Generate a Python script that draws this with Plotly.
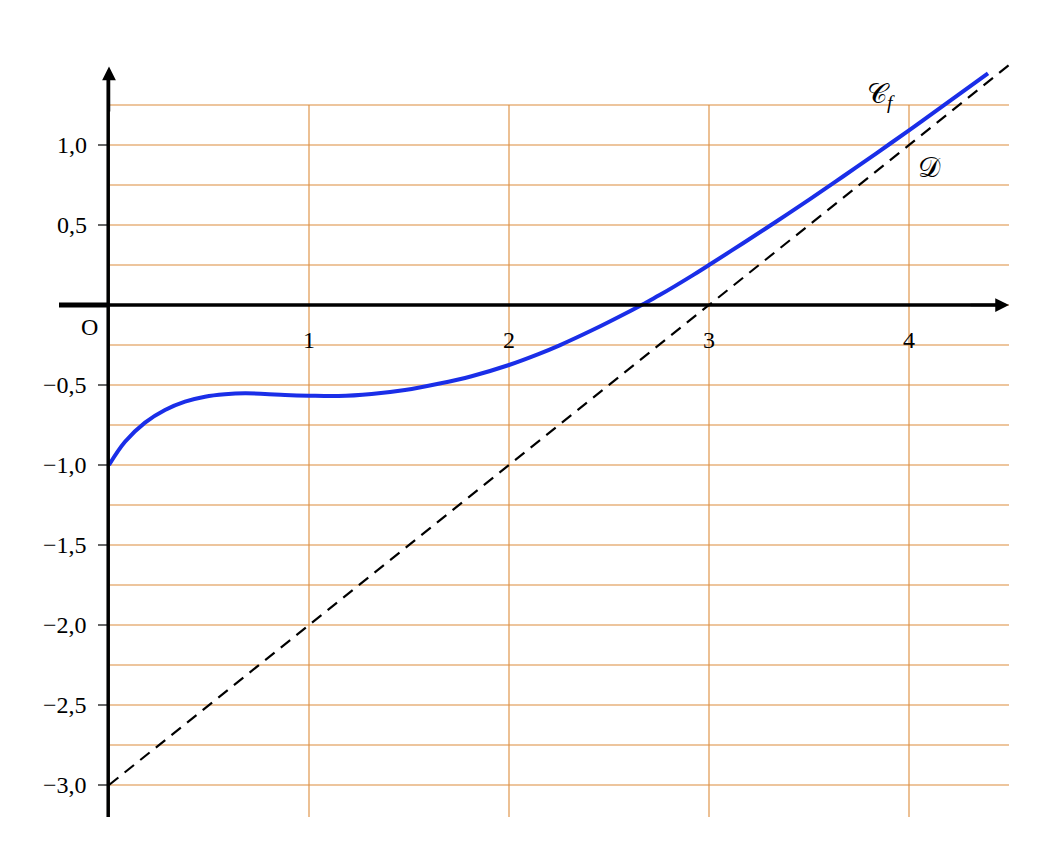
import plotly.graph_objects as go

# Curve C_f
curve_x = [0.0, 0.08, 0.18, 0.28, 0.38, 0.48, 0.58, 0.68, 0.78, 0.88, 1.0, 1.147, 1.313,
           1.48, 1.647, 1.813, 2.0, 2.147, 2.253, 2.42, 2.587, 2.67, 2.753, 2.92, 3.0, 3.17,
           3.337, 3.503, 3.67, 3.837, 4.0, 4.17, 4.395]
curve_y = [-1.0, -0.855, -0.735, -0.656, -0.604, -0.573, -0.558, -0.552, -0.556, -0.5625,
           -0.567, -0.569, -0.556, -0.531, -0.492, -0.445, -0.375, -0.307, -0.252, -0.155,
           -0.050, 0.005, 0.062, 0.187, 0.25, 0.386, 0.522, 0.66, 0.803, 0.948, 1.092, 1.245,
           1.448]

# Asymptote D
line_x = [0.0, 4.5]
line_y = [-3.0, 1.5]

# Ticks and labels
y_tick_vals = [1.0, 0.5, -0.5, -1.0, -1.5, -2.0, -2.5, -3.0]
y_tick_text = ["1,0", "0,5", "−0,5", "−1,0", "−1,5", "−2,0", "−2,5", "−3,0"]
x_tick_vals = [1, 2, 3, 4]
x_tick_text = ["1", "2", "3", "4"]

# Grid
grid_x = [0, 1, 2, 3, 4]
grid_y = [i * 0.25 for i in range(-12, 6)]

GRID = "#DC8C3C"
FONT = "Liberation Serif"

fig = go.Figure()

shapes = []
for gx in grid_x:
    shapes.append(dict(type="line", xref="x", yref="y", x0=gx, x1=gx, y0=-3.2, y1=1.25,
                       line=dict(color=GRID, width=1.1), layer="below"))
for gy in grid_y:
    shapes.append(dict(type="line", xref="x", yref="y", x0=0, x1=4.5, y0=gy, y1=gy,
                       line=dict(color=GRID, width=1.1), layer="below"))
# axes
shapes.append(dict(type="line", xref="x", yref="y", x0=-0.25, x1=0, y0=0, y1=0,
                   line=dict(color="black", width=5)))
shapes.append(dict(type="line", xref="x", yref="y", x0=0, x1=4.45, y0=0, y1=0,
                   line=dict(color="black", width=3.5)))
shapes.append(dict(type="line", xref="x", yref="y", x0=-0.004, x1=-0.004, y0=-3.2, y1=1.43,
                   line=dict(color="black", width=3.5)))
# y ticks
for v in y_tick_vals:
    shapes.append(dict(type="line", xref="x", yref="y", x0=-0.055, x1=0, y0=v, y1=v,
                       line=dict(color="black", width=1.2)))

fig.add_trace(go.Scatter(x=line_x, y=line_y, mode="lines",
                         line=dict(color="black", width=2.2, dash="12px,8px"),
                         hoverinfo="skip", showlegend=False))
fig.add_trace(go.Scatter(x=curve_x, y=curve_y, mode="lines",
                         line=dict(color="#1A2EE8", width=4, shape="spline", smoothing=1.0),
                         hoverinfo="skip", showlegend=False))

annotations = []
for v, t in zip(y_tick_vals, y_tick_text):
    annotations.append(dict(x=-0.1, y=v, xref="x", yref="y", text=t, showarrow=False,
                            xanchor="right", yanchor="middle",
                            font=dict(family=FONT, size=24, color="black")))
for v, t in zip(x_tick_vals, x_tick_text):
    annotations.append(dict(x=v, y=-0.22, xref="x", yref="y", text=t, showarrow=False,
                            xanchor="center", yanchor="middle",
                            font=dict(family=FONT, size=24, color="black")))
annotations.append(dict(x=-0.1, y=-0.135, xref="x", yref="y", text="O", showarrow=False,
                        xanchor="center", yanchor="middle",
                        font=dict(family=FONT, size=24, color="black")))
annotations.append(dict(x=3.86, y=1.31, xref="x", yref="y", text="𝒞<sub><i>f</i></sub>",
                        showarrow=False, xanchor="center", yanchor="middle",
                        font=dict(family=FONT, size=28, color="black")))
annotations.append(dict(x=4.1, y=0.86, xref="x", yref="y", text="𝒟",
                        showarrow=False, xanchor="center", yanchor="middle",
                        font=dict(family=FONT, size=28, color="black")))
# arrowheads
annotations.append(dict(x=4.5, y=0, ax=4.3, ay=0, xref="x", yref="y", axref="x", ayref="y",
                        text="", showarrow=True, arrowhead=2, arrowsize=1.1, arrowwidth=2.5,
                        arrowcolor="black"))
annotations.append(dict(x=0, y=1.49, ax=0, ay=1.2, xref="x", yref="y", axref="x", ayref="y",
                        text="", showarrow=True, arrowhead=2, arrowsize=1.1, arrowwidth=2.5,
                        arrowcolor="black"))

fig.update_layout(
    width=1063, height=858,
    margin=dict(l=41, r=52, t=49, b=41),
    paper_bgcolor="white", plot_bgcolor="white",
    xaxis=dict(range=[-0.3, 4.55], visible=False, fixedrange=True),
    yaxis=dict(range=[-3.25, 1.55], visible=False, fixedrange=True),
    shapes=shapes, annotations=annotations, showlegend=False,
)

fig.write_html("out.html")
